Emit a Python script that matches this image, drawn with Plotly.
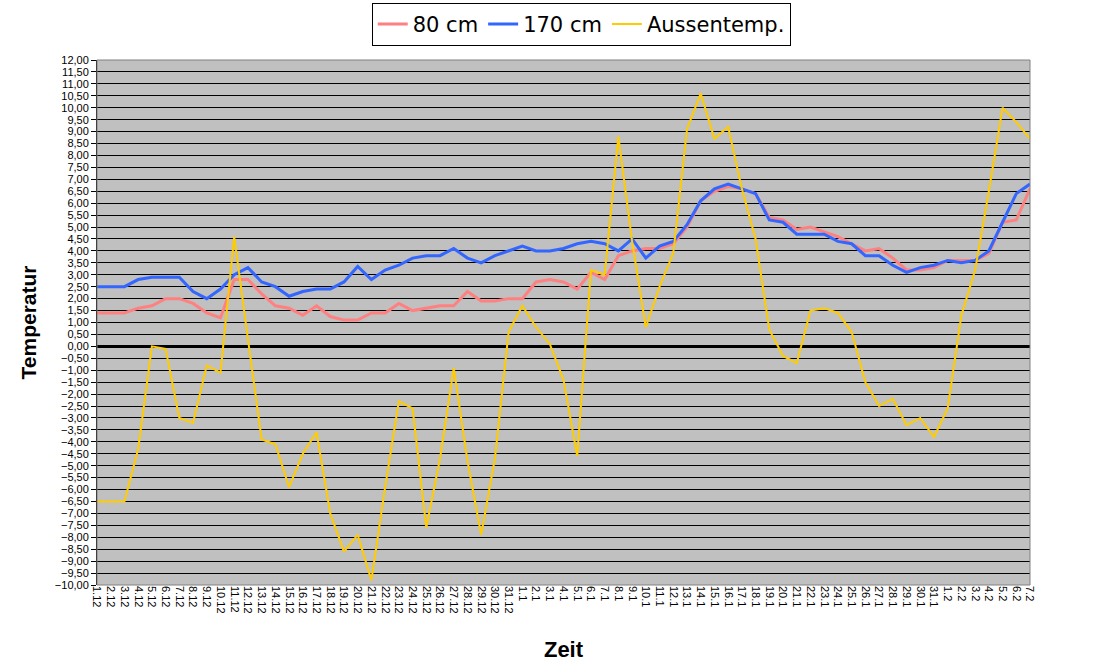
import plotly.graph_objects as go

# Tageslabels 1.12 bis 7.2
TAGE = [
    "1.12", "2.12", "3.12", "4.12", "5.12", "6.12", "7.12", "8.12", "9.12", "10.12",
    "11.12", "12.12", "13.12", "14.12", "15.12", "16.12", "17.12", "18.12", "19.12", "20.12",
    "21.12", "22.12", "23.12", "24.12", "25.12", "26.12", "27.12", "28.12", "29.12", "30.12",
    "31.12", "1.1", "2.1", "3.1", "4.1", "5.1", "6.1", "7.1", "8.1", "9.1",
    "10.1", "11.1", "12.1", "13.1", "14.1", "15.1", "16.1", "17.1", "18.1", "19.1",
    "20.1", "21.1", "22.1", "23.1", "24.1", "25.1", "26.1", "27.1", "28.1", "29.1",
    "30.1", "31.1", "1.2", "2.2", "3.2", "4.2", "5.2", "6.2", "7.2",
]

T_80CM = [
    1.4, 1.4, 1.4, 1.6, 1.7, 2.0, 2.0, 1.8, 1.4, 1.2,
    2.8, 2.8, 2.2, 1.7, 1.6, 1.3, 1.7, 1.25, 1.1, 1.1,
    1.4, 1.4, 1.8, 1.5, 1.6, 1.7, 1.7, 2.3, 1.9, 1.9,
    2.0, 2.0, 2.7, 2.8, 2.7, 2.4, 3.1, 2.8, 3.8, 4.0,
    4.1, 4.1, 4.3, 5.0, 6.1, 6.5, 6.7, 6.6, 6.4, 5.4,
    5.3, 4.9, 5.0, 4.8, 4.6, 4.3, 4.0, 4.1, 3.7, 3.2,
    3.2, 3.3, 3.6, 3.6, 3.6, 3.9, 5.2, 5.3, 6.6,
]

T_170CM = [
    2.5, 2.5, 2.5, 2.8, 2.9, 2.9, 2.9, 2.3, 2.0, 2.4,
    3.0, 3.3, 2.7, 2.5, 2.1, 2.3, 2.4, 2.4, 2.7, 3.35,
    2.8, 3.2, 3.4, 3.7, 3.8, 3.8, 4.1, 3.7, 3.5, 3.8,
    4.0, 4.2, 4.0, 4.0, 4.1, 4.3, 4.4, 4.3, 4.0, 4.5,
    3.7, 4.2, 4.4, 5.1, 6.1, 6.6, 6.8, 6.6, 6.4, 5.3,
    5.2, 4.7, 4.7, 4.7, 4.4, 4.3, 3.8, 3.8, 3.4, 3.1,
    3.3, 3.4, 3.6, 3.5, 3.6, 4.0, 5.2, 6.4, 6.8,
]

T_AUSSEN = [
    -6.5, -6.5, -6.5, -4.3, 0.0, -0.1, -3.0, -3.2, -0.8, -1.1,
    4.6, 0.3, -3.9, -4.1, -5.9, -4.5, -3.6, -7.0, -8.6, -7.9,
    -9.8, -5.9, -2.3, -2.6, -7.6, -4.7, -0.9, -4.8, -7.9, -4.7,
    0.6, 1.7, 0.8, 0.1, -1.4, -4.6, 3.2, 3.0, 8.8, 4.4,
    0.8, 2.5, 3.9, 9.1, 10.6, 8.7, 9.2, 6.6, 4.5, 0.7,
    -0.4, -0.7, 1.5, 1.6, 1.4, 0.6, -1.5, -2.5, -2.2, -3.3,
    -3.0, -3.8, -2.6, 1.3, 3.2, 6.5, 10.0, 9.4, 8.7,
]

SERIEN = [
    ("80 cm", T_80CM, "#FF8080", 3),
    ("170 cm", T_170CM, "#3366FF", 3),
    ("Aussentemp.", T_AUSSEN, "#FFCC00", 2),
]

fig = go.Figure()
for name, werte, farbe, breite in SERIEN:
    fig.add_trace(go.Scatter(
        x=TAGE,
        y=werte,
        name=name,
        mode="lines",
        line=dict(color=farbe, width=breite),
    ))

fig.update_layout(
    width=1099,
    height=671,
    paper_bgcolor="white",
    plot_bgcolor="#C0C0C0",
    separators=",.",
    font=dict(family="Liberation Sans, Arial, sans-serif", color="black"),
    margin=dict(l=97, r=69, t=60, b=86, autoexpand=False),
    showlegend=True,
    legend=dict(
        orientation="h",
        x=0.519, xanchor="center",
        y=1.109, yanchor="top",
        bordercolor="black", borderwidth=1,
        bgcolor="white",
        font=dict(family="DejaVu Sans, sans-serif", size=21),
        itemwidth=30,
        tracegroupgap=0,
    ),
    shapes=[dict(
        type="rect", xref="paper", yref="paper",
        x0=0, y0=0, x1=1, y1=1,
        line=dict(color="#808080", width=1),
        layer="above",
    )],
)

fig.update_xaxes(
    type="category",
    range=[0, len(TAGE) - 1],
    automargin=False,
    tickmode="array",
    tickvals=TAGE,
    ticktext=TAGE,
    tickangle=90,
    tickfont=dict(size=11),
    showgrid=False,
    ticks="",
    title=dict(text="<b>Zeit</b>", font=dict(size=22), standoff=29),
)

fig.update_yaxes(
    range=[-10, 12],
    automargin=False,
    dtick=0.5,
    tick0=0,
    tickformat=".2f",
    tickfont=dict(size=11),
    showgrid=True,
    gridcolor="black",
    gridwidth=1,
    zeroline=True,
    zerolinecolor="black",
    zerolinewidth=3,
    showline=True,
    linecolor="black",
    linewidth=1,
    ticks="outside",
    ticklen=5,
    tickcolor="black",
    title=dict(text="<b>Temperatur</b>", font=dict(size=21), standoff=12),
)

# Seitenrand des Browsers entfernen, damit das Diagramm bei 0,0 beginnt
fig.write_html(
    "out.html",
    config={"displayModeBar": False},
    post_script="document.body.style.margin='0';",
)
